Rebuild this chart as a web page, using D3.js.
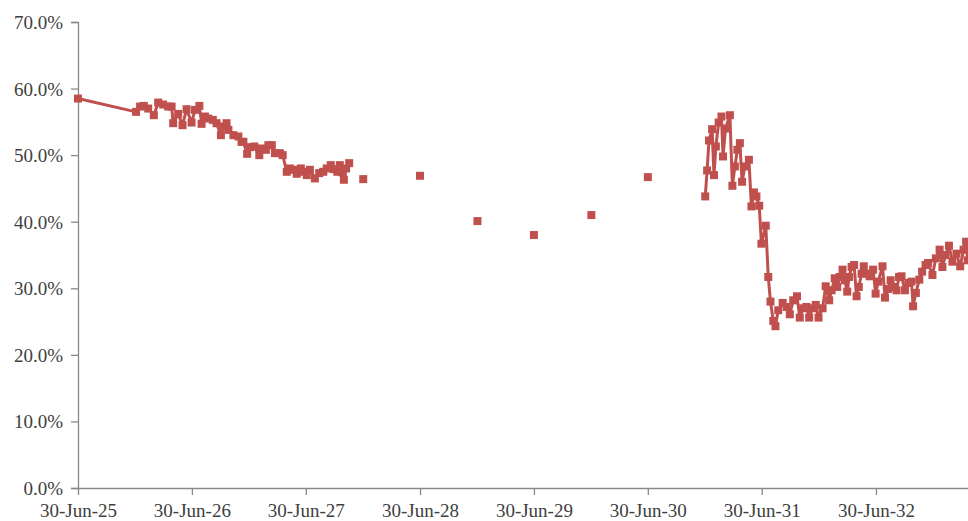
<!DOCTYPE html>
<html>
<head>
<meta charset="utf-8">
<script src="https://cdn.jsdelivr.net/npm/d3@7"></script>
<style>
  body { margin: 0; background: #fff; }
  svg { display: block; }
  .tick text { font-family: "Liberation Serif", "DejaVu Serif", serif; font-size: 19px; fill: #404040; }
</style>
</head>
<body>
<svg id="chart"></svg>
<script>
// dates of each observation (null value = break in the line)
const dates = [
  '2025-06-30', '2026-01-02', '2026-01-15', '2026-01-27', '2026-02-10', '2026-02-28',
  '2026-03-14', '2026-03-30', '2026-04-15', '2026-04-26', '2026-05-01', '2026-05-17',
  '2026-05-31', '2026-06-13', '2026-06-29', '2026-07-10', '2026-07-24', '2026-07-31',
  '2026-08-11', '2026-08-21', '2026-09-05', '2026-09-17', '2026-10-01', '2026-10-09',
  '2026-10-19', '2026-10-25', '2026-11-10', '2026-11-26', '2026-12-06', '2026-12-12',
  '2026-12-24', '2027-01-02', '2027-01-16', '2027-02-01', '2027-02-09', '2027-02-22',
  '2027-03-02', '2027-03-13', '2027-03-23', '2027-04-08', '2027-04-17', '2027-04-30',
  '2027-05-10', '2027-05-21', '2027-06-01', '2027-06-14', '2027-06-24', '2027-07-03',
  '2027-07-13', '2027-07-29', '2027-08-12', '2027-08-25', '2027-09-05', '2027-09-18',
  '2027-09-28', '2027-10-09', '2027-10-17', '2027-10-26', '2027-10-30', '2027-11-06',
  '2027-11-16', '2027-12-01',
  '2027-12-31', '2028-03-31', '2028-06-30', '2028-09-30', '2028-12-31', '2029-03-31',
  '2029-06-30', '2029-09-30', '2029-12-31', '2030-03-31', '2030-06-30', '2030-09-30',
  '2030-12-31', '2031-01-06', '2031-01-12', '2031-01-22', '2031-01-28', '2031-02-03',
  '2031-02-12', '2031-02-21', '2031-02-26', '2031-03-06', '2031-03-20', '2031-03-28',
  '2031-04-05', '2031-04-13', '2031-04-21', '2031-04-28', '2031-05-07', '2031-05-20',
  '2031-05-28', '2031-06-05', '2031-06-13', '2031-06-22', '2031-06-29', '2031-07-13',
  '2031-07-21', '2031-07-28', '2031-08-06', '2031-08-13', '2031-08-22', '2031-09-05',
  '2031-09-18', '2031-09-28', '2031-10-09', '2031-10-21', '2031-10-30', '2031-11-10',
  '2031-11-20', '2031-11-29', '2031-12-10', '2031-12-20', '2031-12-29', '2032-01-11',
  '2032-01-21', '2032-02-01', '2032-02-09', '2032-02-19', '2032-02-27', '2032-03-06',
  '2032-03-15', '2032-03-22', '2032-03-30', '2032-04-05', '2032-04-13', '2032-04-21',
  '2032-04-29', '2032-05-06', '2032-05-15', '2032-05-22', '2032-05-31', '2032-06-10',
  '2032-06-21', '2032-06-29', '2032-07-07', '2032-07-21', '2032-07-29', '2032-08-08',
  '2032-08-16', '2032-08-24', '2032-09-04', '2032-09-12', '2032-09-20', '2032-10-01',
  '2032-10-12', '2032-10-22', '2032-10-27', '2032-11-05', '2032-11-16', '2032-11-25',
  '2032-12-06', '2032-12-14', '2032-12-28', '2033-01-08', '2033-01-20', '2033-01-29',
  '2033-02-08', '2033-02-19', '2033-03-02', '2033-03-15', '2033-03-27', '2033-04-07',
  '2033-04-15', '2033-04-20'
];

// ratio in percent
const values = [
  58.5, 56.5, 57.3, 57.4, 57.0, 56.0,
  57.9, 57.6, 57.3, 57.3, 54.8, 56.2,
  54.5, 56.9, 54.9, 56.8, 57.4, 54.7,
  55.8, 55.5, 55.3, 54.8, 53.0, 54.3,
  54.8, 53.8, 53.0, 52.8, 52.0, 52.0,
  50.2, 51.2, 51.3, 50.0, 51.0, 50.8,
  51.5, 51.5, 50.3, 50.3, 50.0, 47.5,
  48.0, 47.8, 47.2, 48.0, 47.5, 47.0,
  47.8, 46.5, 47.3, 47.5, 48.0, 48.5,
  47.9, 47.5, 48.5, 47.4, 46.3, 48.0,
  48.8, null,
  46.4, null, 46.9, null, 40.1, null,
  38.0, null, 41.0, null, 46.7, null,
  43.8, 47.7, 52.2, 53.9, 47.0, 51.3,
  54.9, 55.8, 49.8, 54.0, 56.0, 45.4,
  48.3, 50.8, 51.8, 46.0, 48.3, 49.3,
  42.3, 44.4, 43.8, 42.4, 36.7, 39.4,
  31.7, 28.0, 25.1, 24.3, 26.7, 27.8,
  27.2, 26.1, 28.2, 28.8, 25.6, 27.0,
  27.2, 25.6, 27.0, 27.5, 25.6, 27.0,
  30.3, 28.2, 29.7, 31.5, 30.2, 31.7,
  32.8, 31.2, 29.5, 31.7, 33.2, 33.5,
  28.8, 30.2, 32.2, 33.3, 32.2, 31.8,
  32.8, 29.2, 31.0, 33.3, 28.6, 29.9,
  31.2, 30.2, 29.7, 31.7, 31.8, 29.7,
  30.8, 31.0, 27.3, 29.3, 31.3, 32.5,
  33.5, 33.8, 32.0, 34.5, 35.8, 33.2,
  35.0, 36.4, 34.0, 35.2, 33.3, 35.8,
  37.0, 34.2
];

const yTicks = [0, 10, 20, 30, 40, 50, 60, 70];
const xTickDates = ['2025-06-30', '2026-06-30', '2027-06-30', '2028-06-30',
  '2029-06-30', '2030-06-30', '2031-06-30', '2032-06-30'];

const width = 968;
const height = 521;
const margin = { top: 22, right: 0, bottom: 33, left: 78 };
const color = '#C0504D';

const parse = d3.timeParse('%Y-%m-%d');
const data = dates.map((d, i) => ({ date: parse(d), v: values[i] }));

const svg = d3.select('#chart')
  .attr('width', width)
  .attr('height', height);

const x = d3.scaleTime()
  .domain([parse('2025-06-30'), parse('2033-04-21')])
  .range([margin.left, width - margin.right]);

const y = d3.scaleLinear()
  .domain([0, 70])
  .range([height - margin.bottom, margin.top]);

svg.append('defs').append('clipPath')
  .attr('id', 'clip')
  .append('rect')
  .attr('x', margin.left - 6)
  .attr('y', 0)
  .attr('width', width - margin.left + 6)
  .attr('height', height);

// y axis
const yAxis = svg.append('g')
  .attr('transform', `translate(${margin.left},0)`)
  .call(d3.axisLeft(y).tickValues(yTicks).tickSize(7).tickPadding(8)
    .tickFormat((d) => d3.format('.1f')(d) + '%'));

// x axis
const xAxis = svg.append('g')
  .attr('transform', `translate(0,${height - margin.bottom})`)
  .call(d3.axisBottom(x).tickValues(xTickDates.map(parse)).tickSize(7).tickPadding(9)
    .tickFormat(d3.timeFormat('%d-%b-%y')));

[yAxis, xAxis].forEach((g) => {
  g.select('.domain').attr('stroke', '#898989').attr('stroke-width', 1.3);
  g.selectAll('.tick line').attr('stroke', '#898989').attr('stroke-width', 1.3);
});
yAxis.selectAll('.tick text').attr('dy', '0.34em');
xAxis.select('.domain').attr('d', `M${margin.left},0.5H${width}`);

const plot = svg.append('g').attr('clip-path', 'url(#clip)');

const line = d3.line()
  .defined((d) => d.v != null)
  .x((d) => x(d.date))
  .y((d) => y(d.v));

plot.append('path')
  .datum(data)
  .attr('d', line)
  .attr('fill', 'none')
  .attr('stroke', color)
  .attr('stroke-width', 3)
  .attr('stroke-linejoin', 'round');

const s = 8;
plot.selectAll('rect.marker')
  .data(data.filter((d) => d.v != null))
  .enter()
  .append('rect')
  .attr('class', 'marker')
  .attr('x', (d) => x(d.date) - s / 2)
  .attr('y', (d) => y(d.v) - s / 2)
  .attr('width', s)
  .attr('height', s)
  .attr('fill', color);
</script>
</body>
</html>
